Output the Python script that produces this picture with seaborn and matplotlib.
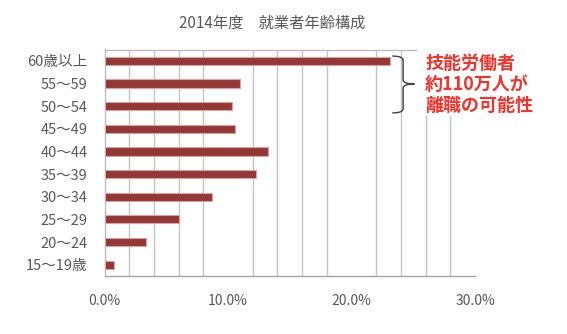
import numpy as np
import pandas as pd
import matplotlib
matplotlib.use("Agg")
import matplotlib.pyplot as plt
from matplotlib.path import Path
from matplotlib.patches import PathPatch, Rectangle
from matplotlib.ticker import FuncFormatter
import seaborn as sns

# Age groups of employed workers (FY2014) and their share of the total
age_groups = ["60歳以上", "55～59", "50～54", "45～49", "40～44",
              "35～39", "30～34", "25～29", "20～24", "15～19歳"]
shares = [0.231, 0.110, 0.103, 0.106, 0.132, 0.123, 0.087, 0.060, 0.034, 0.008]

title = "2014年度　就業者年齢構成"
note_lines = ["技能労働者", "約110万人が", "離職の可能性"]
x_major = [0.0, 0.1, 0.2, 0.3]

df = pd.DataFrame({"age": age_groups, "share": shares})

sns.set_theme(style="white")
plt.rcParams["font.family"] = ["Noto Sans CJK JP", "DejaVu Sans"]

fig = plt.figure(figsize=(5.67, 3.34), dpi=100)
W, H = 567, 334
ax = fig.add_axes([104.5 / W, 1 - 276 / H, (475 - 104.5) / W, (276 - 49.5) / H])

sns.barplot(data=df, x="share", y="age", order=age_groups, orient="h",
            color="#953735", saturation=1, width=0.36,
            edgecolor="#d8a3a3", linewidth=0.8, ax=ax, zorder=3)

ax.set_xlim(0, 0.30)
ax.set_ylim(len(age_groups) - 0.5, -0.5)
ax.set_xticks(x_major)
ax.set_xticks(np.arange(0, 0.301, 0.02), minor=True)
ax.xaxis.set_major_formatter(FuncFormatter(lambda v, _: f"{v * 100:.1f}%"))
ax.grid(False)
ax.grid(which="minor", axis="x", color="#c4c4c4", linewidth=1.0, zorder=0)
ax.set_axisbelow(True)
ax.set_xlabel("")
ax.set_ylabel("")
ax.tick_params(axis="both", which="both", length=0)
ax.tick_params(axis="x", pad=13, labelsize=10, labelcolor="#595959")
ax.tick_params(axis="y", pad=12, labelsize=10.5, labelcolor="#595959")

for side in ["left", "bottom", "top"]:
    ax.spines[side].set_color("#bdbdbd")
    ax.spines[side].set_linewidth(1.0)
ax.spines["bottom"].set_color("#a6a6a6")
ax.spines["right"].set_visible(False)

fig.text(272 / W, 1 - 23 / H, title, ha="center", va="center",
         fontsize=11, color="#595959")

# White panel behind the callout text
fig.patches.append(Rectangle((417 / W, 1 - 116 / H), (W - 417) / W, 75 / H,
                             transform=fig.transFigure, facecolor="white",
                             edgecolor="none", zorder=5))

# Curly brace spanning the three oldest groups
x0, xm, xt = 0.2330, 0.2418, 0.2510
y_top, y_tip, y_bot = -0.21, 1.02, 2.30
r = 0.18
verts = [(x0, y_top), (xm, y_top), (xm, y_top + r),
         (xm, y_tip - r), (xm, y_tip), (xt, y_tip),
         (xm, y_tip), (xm, y_tip + r),
         (xm, y_bot - r), (xm, y_bot), (x0, y_bot)]
codes = [Path.MOVETO, Path.CURVE3, Path.CURVE3,
         Path.LINETO, Path.CURVE3, Path.CURVE3,
         Path.CURVE3, Path.CURVE3,
         Path.LINETO, Path.CURVE3, Path.CURVE3]
ax.add_patch(PathPatch(Path(verts, codes), facecolor="none",
                       edgecolor="#404040", linewidth=1.0,
                       clip_on=False, zorder=6))

for i, line in enumerate(note_lines):
    fig.text(425 / W, 1 - (63 + 21 * i) / H, line, ha="left", va="center",
             fontsize=13, fontweight="bold", color="#f5312a", zorder=7)

fig.savefig("out.png", dpi=100)
